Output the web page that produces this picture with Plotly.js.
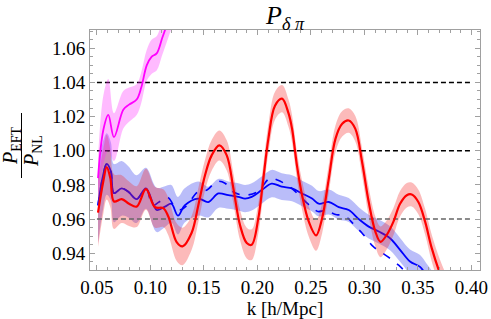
<!DOCTYPE html>
<html>
<head>
<meta charset="utf-8">
<script src="https://cdn.plot.ly/plotly-3.0.1.min.js"></script>
<style>html,body{margin:0;padding:0;background:#fff;}#chart{width:491px;height:319px;}</style>
</head>
<body>
<div id="chart"></div>
<script>
// ---- data ----
const kMagenta = [0.051, 0.0559, 0.0606, 0.0659, 0.0746, 0.0800, 0.0871, 0.0914, 0.0965, 0.1010, 0.1058, 0.1110, 0.1160, 0.1200, 0.1260];
const vMagenta = [0.984, 1.012, 1.021, 1.008, 1.024, 1.027, 1.030, 1.037, 1.050, 1.055, 1.057, 1.066, 1.075, 1.082, 1.090];
const hMagenta = [0.012, 0.020, 0.021, 0.014, 0.011, 0.010, 0.009, 0.009, 0.009, 0.010, 0.010, 0.010, 0.010, 0.010, 0.010];

const kRed = [0.051, 0.0559, 0.0591, 0.0625, 0.0659, 0.0731, 0.0800, 0.0871, 0.0958, 0.1042, 0.1120, 0.1167, 0.1245, 0.1300,
  0.1385, 0.1447, 0.1510, 0.1572, 0.1644, 0.1713, 0.1775, 0.1837, 0.1900, 0.1946, 0.2008, 0.2055, 0.2102, 0.2164, 0.2230,
  0.2290, 0.2323, 0.2370, 0.2417, 0.2480, 0.2548, 0.2604, 0.2667, 0.2729, 0.2792, 0.2853, 0.2915, 0.2978, 0.3040, 0.3102,
  0.3150, 0.3209, 0.3271, 0.3333, 0.3396, 0.3442, 0.3504, 0.3567, 0.3629, 0.3707, 0.3760];
const vRed = [0.9638, 0.982, 0.9904, 0.984, 0.9703, 0.9717, 0.969, 0.9673, 0.9775, 0.967, 0.9664, 0.9615, 0.9465, 0.9440,
  0.952, 0.968, 0.9857, 0.9973, 1.0031, 0.9973, 0.978, 0.9565, 0.946, 0.945, 0.9604, 0.9837, 1.007, 1.0264, 1.0305,
  1.022, 1.013, 0.991, 0.974, 0.9585, 0.9505, 0.9604, 0.9837, 1.007, 1.0158, 1.0177, 1.0128, 0.9934, 0.970, 0.9527,
  0.9467, 0.9508, 0.9585, 0.969, 0.974, 0.9744, 0.970, 0.9585, 0.943, 0.928, 0.920];
const hRed = [0.020, 0.019, 0.019, 0.017, 0.016, 0.014, 0.013, 0.012, 0.012, 0.012, 0.011, 0.011, 0.011, 0.011,
  0.010, 0.010, 0.009, 0.009, 0.0088, 0.0088, 0.0088, 0.0088, 0.009, 0.009, 0.0088, 0.0085, 0.0085, 0.0082, 0.008,
  0.008, 0.008, 0.008, 0.0085, 0.0088, 0.009, 0.0088, 0.0082, 0.0078, 0.0075, 0.0072, 0.0075, 0.008, 0.0085, 0.0088,
  0.009, 0.0085, 0.008, 0.0075, 0.0072, 0.007, 0.0072, 0.0075, 0.0078, 0.008, 0.008];

const kBlue = [0.051, 0.0555, 0.0591, 0.0630, 0.0659, 0.0731, 0.0793, 0.0871, 0.0958, 0.1058, 0.1136, 0.1195, 0.1257, 0.1320,
  0.1447, 0.1541, 0.1634, 0.1728, 0.1821, 0.1884, 0.1946, 0.2040, 0.2133, 0.2227, 0.2323, 0.2417, 0.2510, 0.2573, 0.2667,
  0.2760, 0.2853, 0.2947, 0.3040, 0.3134, 0.3239, 0.3333, 0.3426, 0.3520, 0.3580, 0.3640];
const vBlue = [0.968, 0.985, 0.9923, 0.988, 0.9752, 0.978, 0.976, 0.9717, 0.978, 0.9654, 0.9673, 0.969, 0.962, 0.968,
  0.972, 0.970, 0.975, 0.974, 0.973, 0.972, 0.973, 0.977, 0.9808, 0.979, 0.978, 0.975, 0.972, 0.969, 0.970,
  0.967, 0.9653, 0.960, 0.9556, 0.9527, 0.9488, 0.942, 0.9352, 0.932, 0.927, 0.922];
const hBlue = [0.022, 0.020, 0.018, 0.017, 0.017, 0.016, 0.015, 0.014, 0.012, 0.013, 0.012, 0.011, 0.011, 0.010,
  0.010, 0.009, 0.0085, 0.008, 0.008, 0.008, 0.008, 0.008, 0.008, 0.0078, 0.0076, 0.0075, 0.0075, 0.0074, 0.0073,
  0.0072, 0.007, 0.007, 0.007, 0.007, 0.007, 0.007, 0.007, 0.007, 0.007, 0.007];

const kBlueDash = [0.051, 0.0555, 0.0591, 0.0630, 0.0659, 0.0731, 0.0793, 0.0871, 0.0958, 0.1020, 0.1080, 0.1160, 0.1220, 0.1280,
  0.1340, 0.1444, 0.1528, 0.1619, 0.1697, 0.1772, 0.1880, 0.2000, 0.2118, 0.2180, 0.2300, 0.2461, 0.2508, 0.2566, 0.2632,
  0.2741, 0.2803, 0.2928, 0.2975, 0.3081, 0.3146, 0.3240, 0.3320, 0.3400];
const vBlueDash = [0.968, 0.985, 0.9923, 0.988, 0.9752, 0.978, 0.976, 0.9717, 0.978, 0.968, 0.970, 0.9728, 0.968, 0.9655,
  0.968, 0.976, 0.977, 0.982, 0.981, 0.976, 0.974, 0.976, 0.984, 0.983, 0.979, 0.9695, 0.967, 0.9644, 0.965,
  0.9625, 0.9625, 0.955, 0.952, 0.944, 0.941, 0.937, 0.933, 0.928];

const refK = [0.05, 0.40];
const refLevels = [0.96, 1.00, 1.04];
const refColors = ['#666666', '#000000', '#000000'];

const xTickVals = [0.05, 0.10, 0.15, 0.20, 0.25, 0.30, 0.35, 0.40];
const yTickVals = [0.94, 0.96, 0.98, 1.00, 1.02, 1.04, 1.06];

// ---- traces ----
function band(k, v, h, fillColor) {
  const lo = v.map((x, i) => x - h[i]);
  const hi = v.map((x, i) => x + h[i]);
  return [
    {x: k, y: lo, mode: 'lines', line: {width: 0, shape: 'spline', color: 'rgba(0,0,0,0)'}, hoverinfo: 'skip', showlegend: false},
    {x: k, y: hi, mode: 'lines', fill: 'tonexty', fillcolor: fillColor, line: {width: 0, shape: 'spline', color: 'rgba(0,0,0,0)'}, hoverinfo: 'skip', showlegend: false}
  ];
}
const traces = [];
traces.push(...band(kBlue, vBlue, hBlue, 'rgba(40,50,235,0.32)'));
traces.push({x: kBlue, y: vBlue, mode: 'lines', line: {color: '#0000ff', width: 1.8, shape: 'spline'}, showlegend: false});
traces.push({x: kBlueDash, y: vBlueDash, mode: 'lines', line: {color: '#0000ff', width: 1.6, dash: '8px,9px', shape: 'spline'}, showlegend: false});
traces.push(...band(kRed, vRed, hRed, 'rgba(245,40,40,0.32)'));
refLevels.forEach((lv, i) => {
  traces.push({x: refK, y: [lv, lv], mode: 'lines', line: {color: refColors[i], width: 1.5, dash: '5px,3px'}, showlegend: false});
});
traces.push({x: kRed, y: vRed, mode: 'lines', line: {color: '#ff0000', width: 2.2, shape: 'spline'}, showlegend: false});
traces.push(...band(kMagenta, vMagenta, hMagenta, 'rgba(255,40,255,0.32)'));
traces.push({x: kMagenta, y: vMagenta, mode: 'lines', line: {color: '#ff00ff', width: 1.8, shape: 'spline'}, showlegend: false});

const serifFont = 'Liberation Serif';
const frameColor = '#a0a0a0';

const layout = {
  width: 491, height: 319,
  margin: {l: 90, r: 11, t: 30, b: 49},
  paper_bgcolor: '#ffffff', plot_bgcolor: '#ffffff',
  showlegend: false,
  font: {family: serifFont, color: '#000'},
  title: {text: '<i>P</i><sub><i>δ π</i></sub>', font: {family: serifFont, size: 26, color: '#000'}, x: 0.5805, xanchor: 'center', y: 0.952, yanchor: 'middle'},
  xaxis: {
    range: [0.0435, 0.408], tickvals: xTickVals, tickformat: '.2f',
    ticks: 'inside', ticklen: 5, tickcolor: frameColor, tickwidth: 1,
    showline: true, linecolor: frameColor, linewidth: 1, mirror: 'allticks',
    showgrid: false, zeroline: false,
    minor: {dtick: 0.01, tick0: 0, ticks: 'inside', ticklen: 3, tickcolor: frameColor, showgrid: false},
    tickfont: {family: serifFont, size: 19, color: '#000'},
    title: {text: 'k [h/Mpc]', font: {family: serifFont, size: 19, color: '#000'}, standoff: 7}
  },
  yaxis: {
    range: [0.9302, 1.0707], tickvals: yTickVals, tickformat: '.2f',
    ticks: 'inside', ticklen: 5, tickcolor: frameColor, tickwidth: 1,
    showline: true, linecolor: frameColor, linewidth: 1, mirror: 'allticks',
    showgrid: false, zeroline: false,
    minor: {dtick: 0.005, tick0: 0, ticks: 'inside', ticklen: 3, tickcolor: frameColor, showgrid: false},
    tickfont: {family: serifFont, size: 19, color: '#000'}
  },
  annotations: [
    {xref: 'paper', yref: 'paper', x: (11 - 90) / 390, y: (270 - 146) / 240, text: '<i>P</i><sub>EFT</sub>', showarrow: false, textangle: -90,
     font: {family: serifFont, size: 20, color: '#000'}, xanchor: 'center', yanchor: 'middle'},
    {xref: 'paper', yref: 'paper', x: (32 - 90) / 390, y: (270 - 151) / 240, text: '<i>P</i><sub>NL</sub>', showarrow: false, textangle: -90,
     font: {family: serifFont, size: 20, color: '#000'}, xanchor: 'center', yanchor: 'middle'}
  ],
  shapes: [
    {type: 'line', xref: 'paper', yref: 'paper', x0: (21.5 - 90) / 390, x1: (21.5 - 90) / 390, y0: (270 - 113) / 240, y1: (270 - 178) / 240,
     line: {color: '#000', width: 1}}
  ]
};

Plotly.newPlot('chart', traces, layout, {staticPlot: true, displayModeBar: false});
</script>
</body>
</html>
